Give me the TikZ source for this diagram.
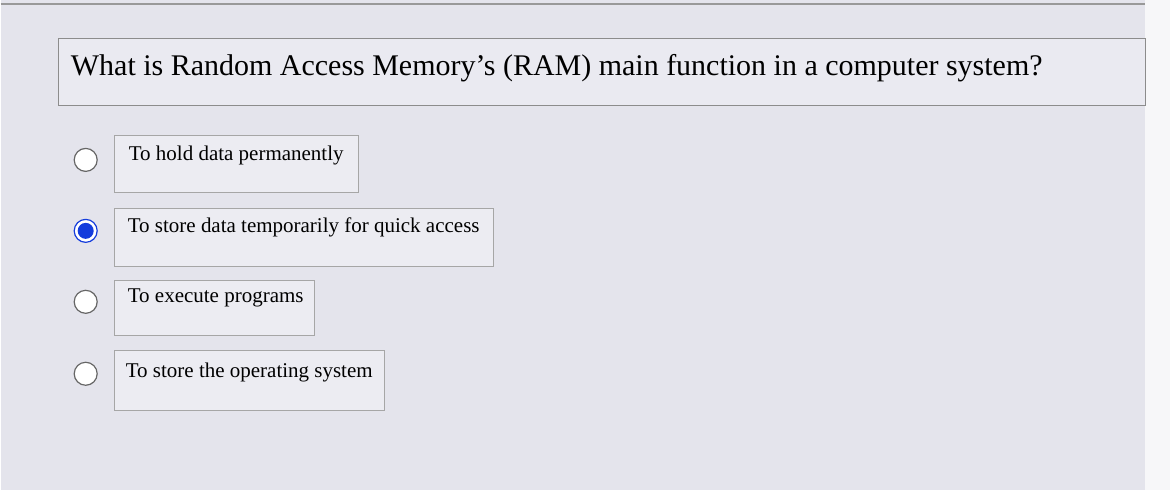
\documentclass[tikz,border=0pt]{standalone}
\usepackage{fontspec}
\setmainfont{Liberation Serif}
\definecolor{bg}{RGB}{228,228,236}
\definecolor{qbg}{RGB}{234,234,241}
\definecolor{obg}{RGB}{236,236,242}
\definecolor{selblue}{RGB}{20,60,220}
\begin{document}
\begin{tikzpicture}[x=1pt,y=-1pt,
  optbox/.style={draw=black!35,fill=obg,line width=1pt},
  opttext/.style={anchor=west,font=\fontsize{21}{22}\selectfont,inner sep=0},
  radio/.style={circle,draw=black!60,fill=white,line width=1.2pt,minimum size=23pt,inner sep=0}]
\fill[bg] (0,0) rectangle (1170,490);
\fill[white!70!bg] (1145,0) rectangle (1170,490);
\draw[black!40,line width=1.5pt] (0,4) -- (1145,4);
\path[use as bounding box] (0,0) rectangle (1170,490);
\node[draw=black!45,fill=qbg,line width=1.2pt,minimum width=1088pt,minimum height=67pt,anchor=north west] (q) at (57,38) {};
\node[anchor=west,font=\fontsize{30}{32}\selectfont,inner sep=0] (qt) at (70,68) {What is Random Access Memory's (RAM) main function in a computer system?};
\node[optbox,minimum width=244pt,minimum height=57pt,anchor=north west] (b1) at (113,135) {};
\node[optbox,minimum width=380pt,minimum height=58pt,anchor=north west] (b2) at (113,208) {};
\node[optbox,minimum width=200pt,minimum height=55pt,anchor=north west] (b3) at (113,280) {};
\node[optbox,minimum width=270pt,minimum height=60pt,anchor=north west] (b4) at (113,350) {};
\node[opttext] (t1) at (128,156) {To hold data permanently};
\node[opttext] (t2) at (127,228) {To store data temporarily for quick access};
\node[opttext] (t3) at (127,298) {To execute programs};
\node[opttext] (t4) at (125,373) {To store the operating system};
\node[radio] (r1) at (85,160) {};
\node[radio,draw=selblue] (r2) at (85,231) {};
\fill[selblue] (r2.center) circle (8pt);
\node[radio] (r3) at (85,302) {};
\node[radio] (r4) at (85,374) {};
\end{tikzpicture}
\end{document}
